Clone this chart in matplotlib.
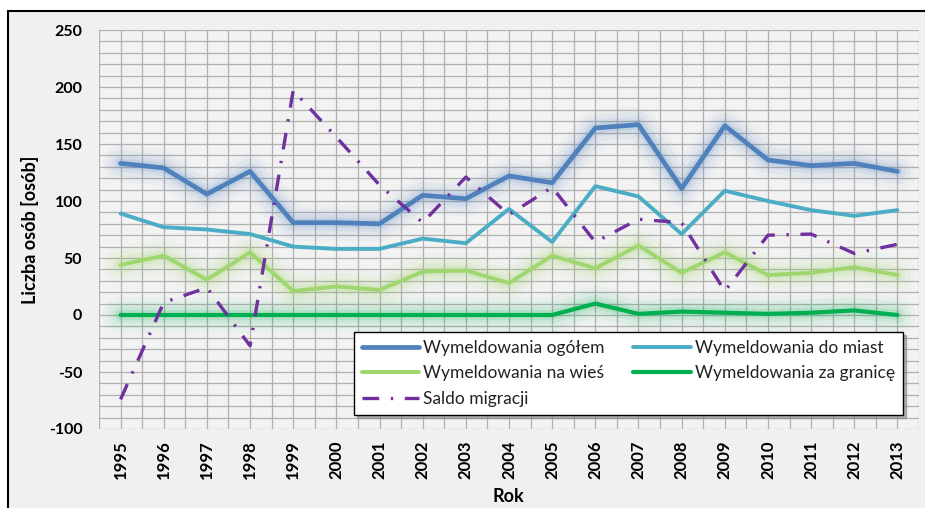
import matplotlib
matplotlib.use("Agg")
import matplotlib.pyplot as plt
import matplotlib.patheffects as pe
from matplotlib.lines import Line2D
from matplotlib.patches import Rectangle
from matplotlib.ticker import MultipleLocator

years = list(range(1995, 2014))
ogolem = [133, 129, 106, 126, 81, 81, 80, 105, 102, 122, 116, 164, 167, 111, 166, 136, 131, 133, 126]
do_miast = [89, 77, 75, 71, 60, 58, 58, 67, 63, 93, 64, 113, 104, 71, 109, 100, 92, 87, 92]
na_wies = [44, 52, 31, 55, 21, 25, 22, 38, 39, 28, 52, 41, 61, 37, 55, 35, 37, 42, 35]
za_granice = [0, 0, 0, 0, 0, 0, 0, 0, 0, 0, 0, 10, 1, 3, 2, 1, 2, 4, 0]
saldo = [-74, 11, 24, -27, 197, 156, 114, 81, 121, 88, 112, 64, 84, 81, 21, 70, 71, 54, 62]

labels = ["Wymeldowania ogółem", "Wymeldowania do miast", "Wymeldowania na wieś",
          "Wymeldowania za granicę", "Saldo migracji"]
colors = ["#4f81bd", "#4bacc6", "#a0d66e", "#00b050", "#7030a0"]

plt.rcParams["font.family"] = ["Lato", "DejaVu Sans"]
plt.rcParams["axes.unicode_minus"] = False

fig = plt.figure(figsize=(9.25, 5.08), dpi=100)
fig.patch.set_facecolor("white")
# chart area with black frame
frame = Rectangle((8 / 925, -0.05), 1.0, 1 - 11 / 508 + 0.05, transform=fig.transFigure,
                  facecolor="#f0f0f0", edgecolor="black", linewidth=1.5, zorder=-5)
fig.patches.append(frame)

ax = fig.add_axes([99 / 925, 1 - 429 / 508, 820 / 925, 399 / 508])
ax.set_facecolor("#f2f2f2")
x = list(range(len(years)))


def glow(color, k=1.0):
    return [pe.Stroke(linewidth=26, foreground=color, alpha=0.04 * k),
            pe.Stroke(linewidth=19, foreground=color, alpha=0.06 * k),
            pe.Stroke(linewidth=12, foreground=color, alpha=0.09 * k),
            pe.Stroke(linewidth=7, foreground=color, alpha=0.12 * k),
            pe.Normal()]


widths = [3.4, 2.8, 2.8, 3.0, 2.4]
saldo_dash = (5, 3.5, 0.7, 3.5)

ax.plot(x, ogolem, color=colors[0], lw=widths[0], path_effects=glow(colors[0]), zorder=5,
        solid_capstyle="round")
ax.plot(x, do_miast, color=colors[1], lw=widths[1], zorder=5, solid_capstyle="round")
ax.plot(x, na_wies, color=colors[2], lw=widths[2], path_effects=glow(colors[2], 1.2), zorder=4,
        solid_capstyle="round")
ax.plot(x, za_granice, color=colors[3], lw=widths[3], path_effects=glow(colors[3], 0.9), zorder=4,
        solid_capstyle="round")
ax.plot(x, saldo, color=colors[4], lw=widths[4], dashes=saldo_dash, zorder=6)

ax.set_xlim(-0.5, len(years) - 0.5)
ax.set_ylim(-100, 250)
ax.set_xticks(x)
ax.set_xticklabels([str(y) for y in years], rotation=90, fontsize=12, fontweight="bold")
ax.xaxis.set_minor_locator(MultipleLocator(0.5))
ax.yaxis.set_major_locator(MultipleLocator(50))
ax.yaxis.set_minor_locator(MultipleLocator(10))
for t in ax.get_yticklabels():
    t.set_fontsize(11.5)
    t.set_fontweight("bold")
ax.tick_params(which="both", length=0)
ax.tick_params(axis="y", pad=12)
ax.tick_params(axis="x", pad=8)
ax.grid(which="both", color="#b0b0b0", linewidth=0.9)
ax.set_axisbelow(True)
for s in ax.spines.values():
    s.set_visible(False)

fig.text(30 / 925, 1 - 230 / 508, "Liczba osób [osób]", rotation=90, ha="center", va="center",
         fontsize=13, fontweight="bold")
fig.text(508 / 925, 1 - 497 / 508, "Rok", ha="center", va="center", fontsize=13, fontweight="bold")

# legend proxies without the glow, laid out row by row like the original
handles = [Line2D([], [], color=colors[i], lw=widths[i], solid_capstyle="round") for i in range(4)]
handles.append(Line2D([], [], color=colors[4], lw=widths[4], dashes=saldo_dash))
order = [0, 2, 4, 1, 3]
leg = ax.legend([handles[i] for i in order], [labels[i] for i in order],
                ncol=2, loc="upper left", bbox_to_anchor=(354 / 925, 1 - 416 / 508, 549 / 925, 84 / 508),
                bbox_transform=fig.transFigure, mode="expand", borderaxespad=0, fontsize=12.5,
                handlelength=3.3, handletextpad=0.25, labelspacing=0.55, borderpad=0.45,
                frameon=True, fancybox=False, columnspacing=1.0,
                shadow={"color": "#888888", "alpha": 0.6}, edgecolor="black", framealpha=1)
leg.get_frame().set_linewidth(1.0)
for t in leg.get_texts():
    t.set_color("#222222")
leg.set_zorder(10)

fig.savefig("out.png", dpi=100, facecolor=fig.get_facecolor())
